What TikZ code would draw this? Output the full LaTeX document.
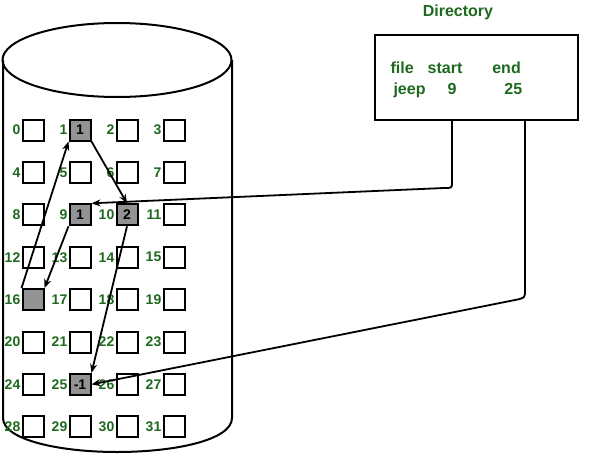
\documentclass[tikz,border=0pt]{standalone}
\usepackage{fontspec}
\setmainfont{Liberation Sans}
\usetikzlibrary{positioning,arrows.meta}
\definecolor{lblgreen}{RGB}{30,105,30}
\tikzset{
  blk/.style={draw, line width=2pt, minimum size=21pt, inner sep=0pt, font=\bfseries\fontsize{14}{14}\selectfont},
  used/.style={blk, fill=gray!85},
  num/.style={text=lblgreen, font=\bfseries\fontsize{14}{14}\selectfont, inner sep=1pt},
  link/.style={line width=1.8pt, -{Stealth[length=9pt,width=7pt]}},
  dtext/.style={font=\bfseries\fontsize{16}{16}\selectfont, text=lblgreen, anchor=west},
}
\begin{document}
\begin{tikzpicture}[x=1pt,y=-1pt]
\useasboundingbox (0,0) rectangle (600,461);
% disk
\draw[line width=2pt] (3,60) -- (3,418) .. controls (3,440) and (60,452) .. (117,452)
  .. controls (175,452) and (232,440) .. (232,418) -- (232,60);
\draw[line width=2pt] (117,60) ellipse (114.5 and 37);
% blocks
\foreach \n in {0,...,31} {
  \pgfmathtruncatemacro{\c}{mod(\n,4)}
  \pgfmathtruncatemacro{\r}{\n/4}
  \pgfmathsetmacro{\xx}{33+\c*47}
  \pgfmathsetmacro{\yy}{130+\r*42.4}
  \node[blk, label={[num]left:\n}] (b\n) at (\xx,\yy) {};
}
\node[used] at (b1) {1};
\node[used] at (b9) {1};
\node[used] at (b10) {2};
\node[used] at (b16) {};
\node[used] at (b25) {-1};
% chain
\draw[link] (b9.south west) -- (b16.north east);
\draw[link] (b16.north west) -- (b1.south west);
\draw[link] (b1.south east) -- (b10.north);
\draw[link] (b10.south) -- (b25.north east);
% directory
\node[dtext, anchor=center] (title) at (458,12) {Directory};
\node[draw, line width=2pt, minimum width=203pt, minimum height=85pt] (dir) at (476.5,77.5) {};
\node[dtext] (hdr) at (387,68) {file\hspace{14pt}start\hspace{30pt}end};
\node[dtext] (row) at (390,90) {jeep\hspace{22pt}9\hspace{48pt}25};
\coordinate (s1) at (452,120);
\coordinate (e1) at (525,120);
\draw[link] (s1) -- (452,182) .. controls (452,188) .. (444,188) -- (b9.north east);
\draw[link] (e1) -- (525,290) .. controls (525,298) .. (515,300) -- (b25.east);
\end{tikzpicture}
\end{document}
